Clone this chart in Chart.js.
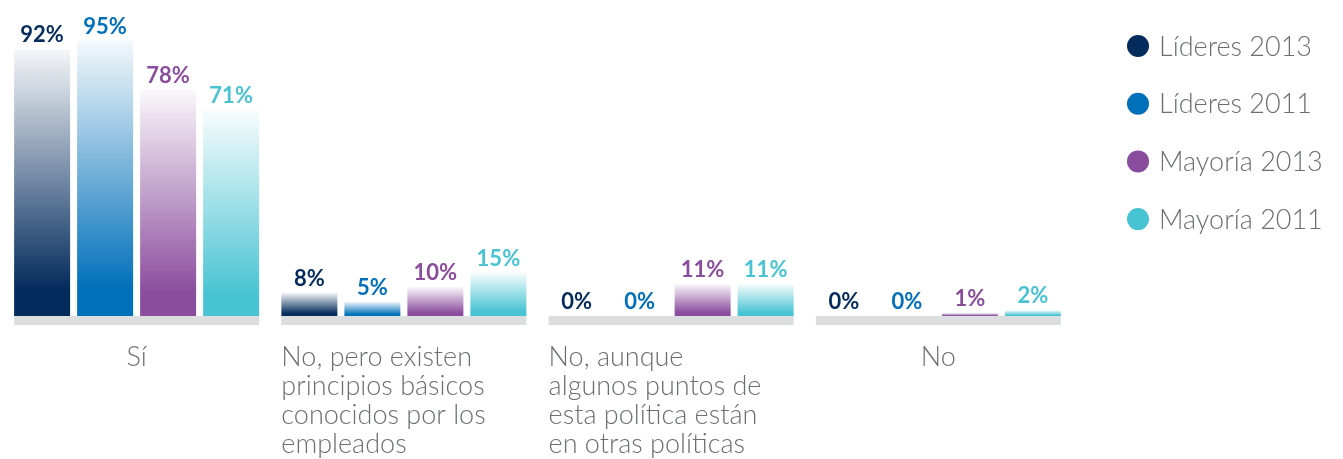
<!DOCTYPE html>
<html lang="es">
<head>
<meta charset="utf-8">
<title>Política - Líderes vs Mayoría</title>
<script src="https://cdn.jsdelivr.net/npm/chart.js@4.4.1/dist/chart.umd.min.js"></script>
<style>
    html, body { margin: 0; padding: 0; background: #ffffff; }
    #wrap { position: relative; width: 1343px; height: 459px; }
</style>
</head>
<body>
<div id="wrap"><canvas id="policyChart"></canvas></div>
<script>
// Datos
const categories = [
    ['Sí'],
    ['No, pero existen', 'principios básicos', 'conocidos por los', 'empleados'],
    ['No, aunque', 'algunos puntos de', 'esta política están', 'en otras políticas'],
    ['No']
];
const seriesNames = ['Líderes 2013', 'Líderes 2011', 'Mayoría 2013', 'Mayoría 2011'];
const lideres2013 = [92, 8, 0, 0];
const lideres2011 = [95, 5, 0, 0];
const mayoria2013 = [78, 10, 11, 1];
const mayoria2011 = [71, 15, 11, 2];
const seriesColors = ['#032b5c', '#0070ba', '#8a4c9d', '#48c3d3'];

const textGray = '#6d6e71';
const bandGray = '#dcdddf';

function hexToRgba(hex, a) {
    const n = parseInt(hex.slice(1), 16);
    return `rgba(${(n >> 16) & 255}, ${(n >> 8) & 255}, ${n & 255}, ${a})`;
}

// Degradado por barra: color sólido abajo, casi blanco arriba
function barGradient(color) {
    return function(context) {
        const chart = context.chart;
        if (!chart.chartArea || context.type !== 'data') return color;
        const yScale = chart.scales.y;
        const base = yScale.getPixelForValue(0);
        const top = yScale.getPixelForValue(context.raw);
        if (base - top < 1) return color;
        const g = chart.ctx.createLinearGradient(0, base, 0, top);
        g.addColorStop(0, color);
        g.addColorStop(0.1, color);
        g.addColorStop(1, hexToRgba(color, 0.04));
        return g;
    };
}

// Banda gris bajo cada grupo
const baseBandPlugin = {
    id: 'baseBand',
    beforeDatasetsDraw(chart) {
        const ctx = chart.ctx;
        const first = chart.getDatasetMeta(0).data;
        const last = chart.getDatasetMeta(chart.data.datasets.length - 1).data;
        const base = chart.scales.y.getPixelForValue(0);
        ctx.save();
        ctx.fillStyle = bandGray;
        first.forEach((bar, i) => {
            const left = bar.x - bar.width / 2;
            const right = last[i].x + last[i].width / 2;
            ctx.fillRect(left, base, right - left, 9);
        });
        ctx.restore();
    }
};

// Etiquetas de valor, categorías y leyenda
const labelsPlugin = {
    id: 'labelsPlugin',
    afterDatasetsDraw(chart) {
        const ctx = chart.ctx;
        ctx.save();

        // Valores
        ctx.font = 'bold 22px Lato, "Open Sans", sans-serif';
        ctx.textAlign = 'center';
        ctx.textBaseline = 'bottom';
        chart.data.datasets.forEach((ds, di) => {
            const meta = chart.getDatasetMeta(di);
            meta.data.forEach((bar, i) => {
                ctx.fillStyle = seriesColors[di];
                ctx.fillText(ds.data[i] + '%', bar.x, bar.y - 3);
            });
        });

        // Categorías
        ctx.font = '300 27px Lato, "Open Sans", sans-serif';
        ctx.fillStyle = textGray;
        ctx.textBaseline = 'alphabetic';
        const firstBars = chart.getDatasetMeta(0).data;
        chart.data.labels.forEach((lines, i) => {
            const center = chart.scales.x.getPixelForValue(i);
            if (lines.length === 1) {
                ctx.textAlign = 'center';
                ctx.fillText(lines[0], center, 366);
            } else {
                ctx.textAlign = 'left';
                const left = firstBars[i].x - firstBars[i].width / 2;
                lines.forEach((line, li) => ctx.fillText(line, left, 366 + li * 29));
            }
        });

        // Leyenda
        ctx.font = '300 27px Lato, "Open Sans", sans-serif';
        ctx.textAlign = 'left';
        ctx.textBaseline = 'middle';
        chart.data.datasets.forEach((ds, di) => {
            const cy = 46 + di * 57.7;
            ctx.fillStyle = seriesColors[di];
            ctx.beginPath();
            ctx.arc(1138, cy, 11, 0, Math.PI * 2);
            ctx.fill();
            ctx.fillStyle = textGray;
            ctx.fillText(ds.label, 1159, cy + 1);
        });

        ctx.restore();
    }
};

const seriesData = [lideres2013, lideres2011, mayoria2013, mayoria2011];

new Chart(document.getElementById('policyChart'), {
    type: 'bar',
    data: {
        labels: categories,
        datasets: seriesData.map((values, i) => ({
            label: seriesNames[i],
            data: values,
            backgroundColor: barGradient(seriesColors[i]),
            borderWidth: 0,
            categoryPercentage: 0.943,
            barPercentage: 0.889
        }))
    },
    options: {
        responsive: true,
        maintainAspectRatio: false,
        animation: false,
        layout: { padding: { left: 3, right: 271, top: 26, bottom: 143 } },
        scales: {
            x: { display: false },
            y: { display: false, min: 0, max: 100 }
        },
        plugins: {
            legend: { display: false },
            tooltip: { enabled: false }
        }
    },
    plugins: [baseBandPlugin, labelsPlugin]
});
</script>
</body>
</html>
